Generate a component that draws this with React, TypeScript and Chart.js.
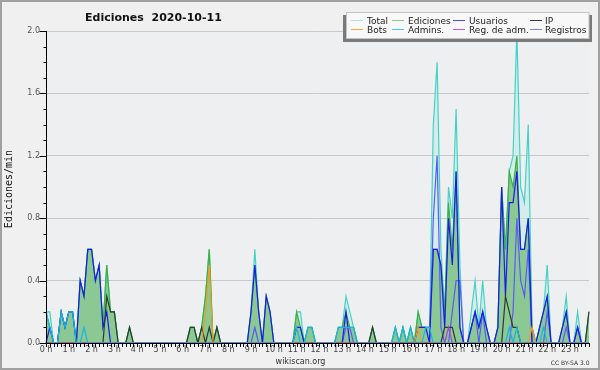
import React, { useEffect, useRef } from 'react';
import { Chart, registerables } from 'chart.js';

Chart.register(...registerables);

// 144 ten-minute slots of 2020-10-11
const slots: string[] = Array.from({ length: 144 }, (_, i) => `${Math.floor(i / 6)}:${(i % 6) * 10}`);

const total: number[] = [
  .2, .2, 0, 0, .2, .1, .2, .2, 0, .4, .3, .6,
  .6, .4, .5, .1, .5, .2, .2, 0, 0, 0, .1, 0,
  0, 0, 0, 0, 0, 0, 0, 0, 0, 0, 0, 0,
  0, 0, .1, .1, 0, .1, .3, .6, 0, .1, 0, 0,
  0, 0, 0, 0, 0, 0, .2, .6, .2, 0, .3, .2,
  0, 0, 0, 0, 0, 0, .2, .2, 0, .1, .1, 0,
  0, 0, 0, 0, 0, .1, .1, .3, .2, .1, 0, 0,
  0, 0, .1, 0, 0, 0, 0, 0, .1, 0, .1, 0,
  .1, 0, .2, .1, .1, .1, 1.4, 1.8, .6, .2, 1.0, .8,
  1.5, .5, 0, 0, .2, .4, .1, .4, .1, 0, 0, .1,
  1.0, .6, 1.1, 1.2, 2.0, 1.0, .9, 1.4, .1, 0, .1, .2,
  .5, 0, 0, 0, .1, .3, 0, 0, .2, 0, 0, .2,
];

const ediciones: number[] = [
  .2, .1, 0, 0, .2, .1, .2, .2, 0, .4, .3, .6,
  .6, .4, .5, .1, .5, .2, .2, 0, 0, 0, .1, 0,
  0, 0, 0, 0, 0, 0, 0, 0, 0, 0, 0, 0,
  0, 0, .1, .1, 0, .1, .3, .6, 0, .1, 0, 0,
  0, 0, 0, 0, 0, 0, .2, .5, .2, 0, .3, .2,
  0, 0, 0, 0, 0, 0, .2, .1, 0, .1, .1, 0,
  0, 0, 0, 0, 0, .1, .1, .2, .1, .1, 0, 0,
  0, 0, .1, 0, 0, 0, 0, 0, .1, 0, .1, 0,
  .1, 0, .2, .1, .1, .1, .6, .6, .5, .2, .9, .6,
  1.1, .1, 0, 0, .1, .2, .1, .2, .1, 0, 0, .1,
  1.0, .6, 1.1, 1.0, 1.2, .6, .6, .8, .1, 0, .1, .2,
  .3, 0, 0, 0, .1, .2, 0, 0, .1, 0, 0, .2,
];

const usuarios: number[] = [
  0, .1, 0, 0, .2, .1, .2, .2, 0, .4, .3, .6,
  .6, .4, .5, .1, .2, 0, 0, 0, 0, 0, 0, 0,
  0, 0, 0, 0, 0, 0, 0, 0, 0, 0, 0, 0,
  0, 0, 0, 0, 0, 0, 0, 0, 0, 0, 0, 0,
  0, 0, 0, 0, 0, 0, .2, .5, .2, 0, .3, .2,
  0, 0, 0, 0, 0, 0, .1, .1, 0, 0, 0, 0,
  0, 0, 0, 0, 0, 0, 0, .2, 0, 0, 0, 0,
  0, 0, 0, 0, 0, 0, 0, 0, 0, 0, 0, 0,
  0, 0, .1, .1, .1, 0, .6, .6, .5, .1, .8, .5,
  1.1, .1, 0, 0, .1, .2, .1, .2, .1, 0, 0, .1,
  1.0, .3, .9, .9, 1.1, .6, .6, .8, 0, 0, .1, .2,
  .3, 0, 0, 0, .1, .2, 0, 0, .1, 0, 0, 0,
];

const ip: number[] = [
  0, 0, 0, 0, 0, 0, 0, 0, 0, 0, 0, 0,
  0, 0, 0, 0, .3, .2, .2, 0, 0, 0, .1, 0,
  0, 0, 0, 0, 0, 0, 0, 0, 0, 0, 0, 0,
  0, 0, .1, .1, 0, .1, 0, .1, 0, .1, 0, 0,
  0, 0, 0, 0, 0, 0, 0, 0, 0, 0, 0, 0,
  0, 0, 0, 0, 0, 0, 0, 0, 0, 0, 0, 0,
  0, 0, 0, 0, 0, 0, 0, 0, 0, 0, 0, 0,
  0, 0, .1, 0, 0, 0, 0, 0, 0, 0, 0, 0,
  0, 0, 0, 0, 0, 0, 0, 0, 0, .1, .1, .1,
  0, 0, 0, 0, 0, 0, 0, 0, 0, 0, 0, 0,
  0, .3, .2, .1, .1, 0, 0, 0, 0, 0, 0, 0,
  0, 0, 0, 0, 0, 0, 0, 0, 0, 0, 0, .2,
];

const bots: number[] = [
  0, 0, 0, 0, 0, 0, 0, 0, 0, 0, 0, 0,
  0, 0, 0, 0, 0, 0, 0, 0, 0, 0, 0, 0,
  0, 0, 0, 0, 0, 0, 0, 0, 0, 0, 0, 0,
  0, 0, 0, 0, 0, 0, .2, .5, 0, 0, 0, 0,
  0, 0, 0, 0, 0, 0, 0, 0, 0, 0, 0, 0,
  0, 0, 0, 0, 0, 0, 0, 0, 0, 0, 0, 0,
  0, 0, 0, 0, 0, 0, 0, 0, 0, 0, 0, 0,
  0, 0, 0, 0, 0, 0, 0, 0, 0, 0, 0, 0,
  0, 0, .1, 0, 0, 0, 0, 0, 0, 0, 0, 0,
  0, 0, 0, 0, 0, 0, 0, 0, 0, 0, 0, 0,
  0, 0, 0, 0, 0, 0, 0, 0, .1, 0, 0, 0,
  0, 0, 0, 0, 0, 0, 0, 0, 0, 0, 0, 0,
];

const admins: number[] = [
  .2, .1, 0, 0, .2, .1, .2, .2, 0, 0, .1, 0,
  0, 0, 0, 0, 0, 0, 0, 0, 0, 0, 0, 0,
  0, 0, 0, 0, 0, 0, 0, 0, 0, 0, 0, 0,
  0, 0, 0, 0, 0, 0, 0, 0, 0, 0, 0, 0,
  0, 0, 0, 0, 0, 0, 0, 0, 0, 0, 0, 0,
  0, 0, 0, 0, 0, 0, .1, 0, 0, .1, .1, 0,
  0, 0, 0, 0, 0, .1, .1, .1, .1, .1, 0, 0,
  0, 0, 0, 0, 0, 0, 0, 0, .1, 0, .1, 0,
  .1, 0, 0, 0, .1, .1, 0, 0, 0, 0, 0, 0,
  0, 0, 0, 0, 0, 0, 0, 0, 0, 0, 0, 0,
  0, 0, .1, 0, .1, 0, 0, 0, 0, 0, 0, .1,
  0, 0, 0, 0, 0, 0, 0, 0, 0, 0, 0, 0,
];

const regAdm: number[] = [
  0, 0, 0, 0, 0, 0, 0, 0, 0, 0, 0, 0,
  0, 0, 0, 0, 0, 0, 0, 0, 0, 0, 0, 0,
  0, 0, 0, 0, 0, 0, 0, 0, 0, 0, 0, 0,
  0, 0, 0, 0, 0, 0, 0, 0, 0, 0, 0, 0,
  0, 0, 0, 0, 0, 0, 0, 0, 0, 0, 0, 0,
  0, 0, 0, 0, 0, 0, 0, 0, 0, 0, 0, 0,
  0, 0, 0, 0, 0, 0, 0, 0, 0, 0, 0, 0,
  0, 0, 0, 0, 0, 0, 0, 0, 0, 0, 0, 0,
  0, 0, 0, 0, 0, 0, 0, 0, 0, 0, .1, 0,
  0, 0, 0, 0, 0, 0, 0, 0, 0, 0, 0, 0,
  0, 0, 0, 0, 0, 0, 0, 0, 0, 0, 0, 0,
  0, 0, 0, 0, 0, 0, 0, 0, 0, 0, 0, 0,
];

const registros: number[] = [
  0, 0, 0, 0, 0, 0, 0, 0, 0, 0, 0, 0,
  0, 0, 0, 0, 0, 0, 0, 0, 0, 0, 0, 0,
  0, 0, 0, 0, 0, 0, 0, 0, 0, 0, 0, 0,
  0, 0, 0, 0, 0, 0, 0, 0, 0, 0, 0, 0,
  0, 0, 0, 0, 0, 0, 0, .1, 0, 0, 0, 0,
  0, 0, 0, 0, 0, 0, 0, 0, 0, 0, 0, 0,
  0, 0, 0, 0, 0, 0, 0, .1, .1, 0, 0, 0,
  0, 0, 0, 0, 0, 0, 0, 0, 0, 0, 0, 0,
  0, 0, 0, 0, 0, 0, .8, 1.2, .1, 0, 0, .2,
  .4, .4, 0, 0, .1, .2, 0, .2, 0, 0, 0, 0,
  0, 0, 0, .2, .8, .4, .3, .6, 0, 0, 0, 0,
  .2, 0, 0, 0, 0, .1, 0, 0, .1, 0, 0, 0,
];

const yMax = 2.0;
const titleText = 'Ediciones  2020-10-11';
const yTitle = 'Ediciones/min';

type Series = {
  label: string; data: number[]; color: string; legend: string;
  fill?: string; order: number; col: number; row: number;
};

const series: Series[] = [
  { label: 'Total', data: total, color: '#44d2c6', legend: '#a6e4dc', fill: 'rgba(185,236,228,0.5)', order: 8, col: 0, row: 0 },
  { label: 'Ediciones', data: ediciones, color: '#3cb040', legend: '#8acc8a', fill: 'rgba(120,190,125,0.8)', order: 7, col: 1, row: 0 },
  { label: 'Usuarios', data: usuarios, color: '#1a1aee', legend: '#4a4ae8', order: 5, col: 2, row: 0 },
  { label: 'IP', data: ip, color: '#2e3a30', legend: '#3a3a3a', order: 4, col: 3, row: 0 },
  { label: 'Bots', data: bots, color: '#f39c1e', legend: '#f4a640', order: 3, col: 0, row: 1 },
  { label: 'Admins.', data: admins, color: '#1cb4e4', legend: '#48cadc', order: 1, col: 1, row: 1 },
  { label: 'Reg. de adm.', data: regAdm, color: '#b43cd4', legend: '#cc55dd', order: 2, col: 2, row: 1 },
  { label: 'Registros', data: registros, color: '#5a5af8', legend: '#7c7cf0', order: 6, col: 3, row: 1 },
];

const LEG_SWATCH_X = [351, 392, 453, 530];
const LEG_TEXT_X = [367, 408, 469, 545];
const LEG_SWATCH_Y = [20.5, 29.5];
const LEG_TEXT_Y = [23.5, 32.5];

const deco = {
  id: 'deco',
  beforeDraw(chart: any) {
    const { ctx, chartArea: a } = chart;
    ctx.save();
    ctx.fillStyle = '#f0f0f0';
    ctx.fillRect(0, 0, chart.width, chart.height);
    ctx.fillStyle = '#eeeff1';
    ctx.fillRect(a.left, a.top, a.right - a.left, a.bottom - a.top);
    ctx.restore();
  },
  afterDatasetsDraw(chart: any) {
    const { ctx, chartArea: a } = chart;
    const xs = chart.scales.x;
    const ys = chart.scales.y;
    ctx.save();
    ctx.strokeStyle = '#000';
    ctx.lineWidth = 1;
    ctx.beginPath();
    const ax = Math.round(a.left) + 0.5;
    const ay = Math.round(a.bottom) + 0.5;
    ctx.moveTo(ax, Math.round(a.top));
    ctx.lineTo(ax, ay);
    ctx.lineTo(Math.round(a.right) + 1, ay);
    for (let k = 0; k <= Math.round(yMax * 10); k++) {
      const y = Math.round(ys.getPixelForValue(k / 10)) + 0.5;
      const len = k % 4 === 0 ? 7 : 3;
      ctx.moveTo(ax - len, y);
      ctx.lineTo(ax, y);
    }
    for (let i = 0; i < slots.length; i++) {
      const x = Math.round(xs.getPixelForTick(i)) + 0.5;
      ctx.moveTo(x, ay);
      ctx.lineTo(x, ay + 3.5);
    }
    ctx.stroke();
    ctx.restore();
  },
  afterDraw(chart: any) {
    const { ctx } = chart;
    ctx.save();
    // title
    ctx.fillStyle = '#111';
    ctx.font = 'bold 11px "DejaVu Sans"';
    ctx.textAlign = 'left';
    ctx.textBaseline = 'alphabetic';
    ctx.fillText(titleText, 85, 20.5);
    // y title
    ctx.save();
    ctx.translate(9.5, 189);
    ctx.rotate(-Math.PI / 2);
    ctx.font = '10px "DejaVu Sans Mono"';
    ctx.textAlign = 'center';
    ctx.textBaseline = 'middle';
    ctx.fillText(yTitle, 0, 0);
    ctx.restore();
    // legend
    ctx.fillStyle = '#7a7a7a';
    ctx.fillRect(343, 15, 249, 27);
    ctx.fillStyle = '#f8f8f8';
    ctx.fillRect(346.5, 12.5, 242.5, 26);
    ctx.strokeStyle = '#c4c4c4';
    ctx.lineWidth = 1;
    ctx.strokeRect(346.5, 12.5, 242.5, 26);
    ctx.font = '9px "DejaVu Sans"';
    ctx.textAlign = 'left';
    ctx.textBaseline = 'alphabetic';
    series.forEach((s) => {
      const sx = LEG_SWATCH_X[s.col];
      const sy = LEG_SWATCH_Y[s.row];
      ctx.strokeStyle = s.legend;
      ctx.beginPath();
      ctx.moveTo(sx, sy);
      ctx.lineTo(sx + 12, sy);
      ctx.stroke();
      ctx.fillStyle = '#222';
      ctx.fillText(s.label, LEG_TEXT_X[s.col], LEG_TEXT_Y[s.row]);
    });
    // footer
    ctx.fillStyle = '#333';
    ctx.font = '8px "DejaVu Sans"';
    ctx.textAlign = 'center';
    ctx.fillText('wikiscan.org', 300.5, 364);
    ctx.font = '6px "DejaVu Sans"';
    ctx.textAlign = 'right';
    ctx.fillText('CC BY-SA 3.0', 589.5, 364.5);
    // frame
    ctx.strokeStyle = '#a0a0a0';
    ctx.lineWidth = 2;
    ctx.strokeRect(1, 1, chart.width - 2, chart.height - 2);
    ctx.restore();
  },
};

export default function App() {
  const ref = useRef<HTMLCanvasElement>(null);
  useEffect(() => {
    document.body.style.margin = '0';
    const chart = new Chart(ref.current as HTMLCanvasElement, {
      type: 'line',
      data: {
        labels: slots,
        datasets: series.map((s) => ({
          label: s.label,
          data: s.data,
          borderColor: s.color,
          backgroundColor: s.fill || 'transparent',
          fill: s.fill ? 'origin' : false,
          order: s.order,
          borderWidth: 1.2,
          pointRadius: 0,
          tension: 0,
        })),
      },
      options: {
        responsive: false,
        animation: false,
        devicePixelRatio: 1,
        layout: { padding: { left: 0, top: 31, right: 11, bottom: 0 } },
        plugins: {
          legend: { display: false },
          title: { display: false },
          tooltip: { enabled: false },
          filler: { drawTime: 'beforeDatasetsDraw' },
        } as any,
        scales: {
          x: {
            type: 'category',
            offset: false,
            grid: { display: false, drawTicks: false },
            border: { display: false },
            ticks: {
              autoSkip: false,
              maxRotation: 0,
              minRotation: 0,
              padding: 2,
              color: '#444',
              font: { family: '"DejaVu Sans"', size: 8 },
              callback: (_v: any, i: number) => (i % 6 === 0 ? `${i / 6} h` : ''),
            },
            afterFit: (s: any) => { s.height = 27; },
          },
          y: {
            min: 0,
            max: yMax,
            grid: {
              drawTicks: false,
              lineWidth: 1,
              color: (c: any) => {
                const k = Math.round(c.tick.value * 10);
                return k % 4 === 0 && k > 0 ? '#c8c8c8' : 'rgba(0,0,0,0)';
              },
            },
            border: { display: false },
            ticks: {
              stepSize: 0.1,
              autoSkip: false,
              maxTicksLimit: 30,
              padding: 6,
              color: '#555',
              font: { family: '"DejaVu Sans"', size: 8 },
              callback: (v: any) => {
                const k = Math.round(Number(v) * 10);
                return k % 4 === 0 ? (k / 10).toFixed(1) : '';
              },
            },
            afterFit: (s: any) => { s.width = 46; },
          },
        },
      } as any,
      plugins: [deco],
    });
    return () => chart.destroy();
  }, []);
  return (
    <div style={{ position: 'absolute', left: 0, top: 0, width: 600, height: 370 }}>
      <canvas ref={ref} width={600} height={370} style={{ display: 'block', width: 600, height: 370 }} />
    </div>
  );
}
